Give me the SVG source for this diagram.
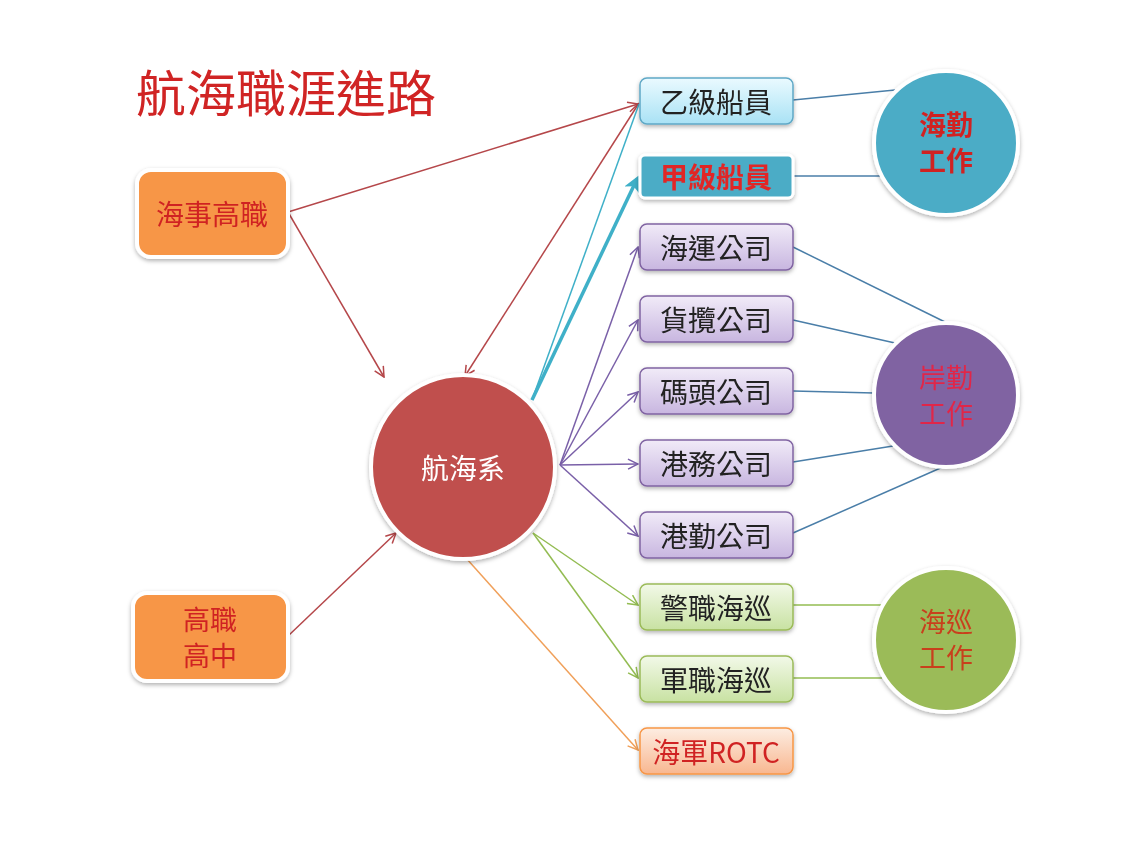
<svg xmlns="http://www.w3.org/2000/svg" width="1138" height="857" viewBox="0 0 1138 857">
<defs>
<style>
.t{font-family:"Noto Sans CJK TC","Noto Sans CJK SC",sans-serif;}
.bx{font-size:28px;text-anchor:middle;dominant-baseline:central;}
.cl{font-size:27px;text-anchor:middle;}
.red{stroke:#B5474A;stroke-width:1.5;fill:none;}
.pur{stroke:#7A60A8;stroke-width:1.5;fill:none;}
.grn{stroke:#93BC52;stroke-width:1.5;fill:none;}
.org{stroke:#F0A05A;stroke-width:1.5;fill:none;}
.tea{stroke:#3FB0C8;fill:none;}
.blu{stroke:#4A7EA8;stroke-width:1.5;fill:none;}
</style>
<linearGradient id="gB" x1="0" y1="0" x2="0" y2="1"><stop offset="0" stop-color="#EAFAFF"/><stop offset="1" stop-color="#A9E2F5"/></linearGradient>
<linearGradient id="gP" x1="0" y1="0" x2="0" y2="1"><stop offset="0" stop-color="#F1EBF8"/><stop offset="1" stop-color="#C8B6E0"/></linearGradient>
<linearGradient id="gG" x1="0" y1="0" x2="0" y2="1"><stop offset="0" stop-color="#F2F9E8"/><stop offset="1" stop-color="#C8E2A2"/></linearGradient>
<linearGradient id="gO" x1="0" y1="0" x2="0" y2="1"><stop offset="0" stop-color="#FDEDE2"/><stop offset="1" stop-color="#F8B790"/></linearGradient>
<filter id="sh" x="-20%" y="-20%" width="140%" height="150%"><feDropShadow dx="0" dy="2" stdDeviation="2" flood-color="#000" flood-opacity="0.3"/></filter>
<marker id="aR" viewBox="0 0 12 12" refX="11" refY="6" markerWidth="12" markerHeight="12" markerUnits="userSpaceOnUse" orient="auto"><path d="M1,1 L11,6 L1,11" fill="none" stroke="#B5474A" stroke-width="1.5"/></marker>
<marker id="aP" viewBox="0 0 12 12" refX="11" refY="6" markerWidth="12" markerHeight="12" markerUnits="userSpaceOnUse" orient="auto"><path d="M1,1 L11,6 L1,11" fill="none" stroke="#7A60A8" stroke-width="1.5"/></marker>
<marker id="aG" viewBox="0 0 12 12" refX="11" refY="6" markerWidth="12" markerHeight="12" markerUnits="userSpaceOnUse" orient="auto"><path d="M1,1 L11,6 L1,11" fill="none" stroke="#93BC52" stroke-width="1.5"/></marker>
<marker id="aO" viewBox="0 0 12 12" refX="11" refY="6" markerWidth="12" markerHeight="12" markerUnits="userSpaceOnUse" orient="auto"><path d="M1,1 L11,6 L1,11" fill="none" stroke="#F0A05A" stroke-width="1.5"/></marker>
<marker id="aT" viewBox="0 0 12 12" refX="9" refY="6" markerWidth="16" markerHeight="16" markerUnits="userSpaceOnUse" orient="auto"><path d="M0,0 L12,6 L0,12 L3,6 Z" fill="#3FB0C8"/></marker>
</defs>
<rect width="1138" height="857" fill="#FFFFFF"/>
<text class="t" x="136" y="112" font-size="50" fill="#D02424">航海職涯進路</text>

<g id="connectors">
<line class="red" x1="288" y1="212" x2="638" y2="104" marker-end="url(#aR)"/>
<line class="red" x1="288" y1="212" x2="384" y2="377" marker-end="url(#aR)"/>
<line class="red" x1="639" y1="103" x2="465" y2="376" marker-end="url(#aR)"/>
<line class="red" x1="288" y1="636" x2="396" y2="533" marker-end="url(#aR)"/>
<line class="tea" stroke-width="1.5" x1="532" y1="400" x2="639" y2="104"/>
<line class="tea" stroke-width="3.5" x1="532" y1="400" x2="637" y2="179" marker-end="url(#aT)"/>
<line class="pur" x1="560" y1="465" x2="638" y2="247" marker-end="url(#aP)"/>
<line class="pur" x1="560" y1="465" x2="638" y2="320" marker-end="url(#aP)"/>
<line class="pur" x1="560" y1="465" x2="638" y2="392" marker-end="url(#aP)"/>
<line class="pur" x1="560" y1="465" x2="638" y2="464" marker-end="url(#aP)"/>
<line class="pur" x1="560" y1="465" x2="638" y2="536" marker-end="url(#aP)"/>
<line class="grn" x1="533" y1="533" x2="638" y2="605" marker-end="url(#aG)"/>
<line class="grn" x1="533" y1="533" x2="638" y2="678" marker-end="url(#aG)"/>
<line class="org" x1="466" y1="558" x2="638" y2="750" marker-end="url(#aO)"/>
<line class="blu" x1="793" y1="100" x2="895" y2="90"/>
<line class="blu" x1="793" y1="176" x2="882" y2="176"/>
<line class="blu" x1="793" y1="247" x2="945" y2="322"/>
<line class="blu" x1="793" y1="320" x2="895" y2="343"/>
<line class="blu" x1="793" y1="391" x2="874" y2="393"/>
<line class="blu" x1="793" y1="462" x2="893" y2="446"/>
<line class="blu" x1="793" y1="533" x2="945" y2="466"/>
<line class="grn" x1="793" y1="605" x2="882" y2="605"/>
<line class="grn" x1="793" y1="678" x2="882" y2="678"/>
</g>

<g id="n-haishi" filter="url(#sh)">
<rect x="137" y="170" width="151" height="87" rx="14" fill="#F79646" stroke="#FFFFFF" stroke-width="4"/>
<text class="t bx" x="212" y="213" fill="#D02424">海事高職</text>
</g>
<g id="n-gaozhi" filter="url(#sh)">
<rect x="133" y="593" width="155" height="88" rx="14" fill="#F79646" stroke="#FFFFFF" stroke-width="4"/>
<text class="t cl" x="210" y="630" fill="#D02424">高職</text>
<text class="t cl" x="210" y="666" fill="#D02424">高中</text>
</g>
<g id="n-hanghai" filter="url(#sh)">
<circle cx="463" cy="467" r="92" fill="#C0504D" stroke="#FFFFFF" stroke-width="4"/>
<text class="t bx" x="463" y="467" fill="#FFFFFF">航海系</text>
</g>

<g id="n-yi" filter="url(#sh)">
<rect x="640" y="78" width="153" height="46" rx="7" fill="url(#gB)" stroke="#5FA8C6" stroke-width="1.5"/>
<text class="t bx" x="716" y="101" fill="#222">乙級船員</text>
</g>
<g id="n-jia" filter="url(#sh)">
<rect x="640" y="155" width="153" height="43" rx="5" fill="#4BACC6" stroke="#FFFFFF" stroke-width="3"/>
<text class="t bx" x="716" y="176" fill="#E02828" font-weight="bold">甲級船員</text>
</g>
<g id="n-haiyun" filter="url(#sh)">
<rect x="640" y="224" width="153" height="46" rx="7" fill="url(#gP)" stroke="#8064A2" stroke-width="1.5"/>
<text class="t bx" x="716" y="247" fill="#222">海運公司</text>
</g>
<g id="n-huolan" filter="url(#sh)">
<rect x="640" y="296" width="153" height="46" rx="7" fill="url(#gP)" stroke="#8064A2" stroke-width="1.5"/>
<text class="t bx" x="716" y="319" fill="#222">貨攬公司</text>
</g>
<g id="n-matou" filter="url(#sh)">
<rect x="640" y="368" width="153" height="46" rx="7" fill="url(#gP)" stroke="#8064A2" stroke-width="1.5"/>
<text class="t bx" x="716" y="391" fill="#222">碼頭公司</text>
</g>
<g id="n-gangwu" filter="url(#sh)">
<rect x="640" y="440" width="153" height="46" rx="7" fill="url(#gP)" stroke="#8064A2" stroke-width="1.5"/>
<text class="t bx" x="716" y="463" fill="#222">港務公司</text>
</g>
<g id="n-gangqin" filter="url(#sh)">
<rect x="640" y="512" width="153" height="46" rx="7" fill="url(#gP)" stroke="#8064A2" stroke-width="1.5"/>
<text class="t bx" x="716" y="535" fill="#222">港勤公司</text>
</g>
<g id="n-jingzhi" filter="url(#sh)">
<rect x="640" y="584" width="153" height="46" rx="7" fill="url(#gG)" stroke="#9BBB59" stroke-width="1.5"/>
<text class="t bx" x="716" y="607" fill="#222">警職海巡</text>
</g>
<g id="n-junzhi" filter="url(#sh)">
<rect x="640" y="656" width="153" height="46" rx="7" fill="url(#gG)" stroke="#9BBB59" stroke-width="1.5"/>
<text class="t bx" x="716" y="679" fill="#222">軍職海巡</text>
</g>
<g id="n-rotc" filter="url(#sh)">
<rect x="640" y="728" width="153" height="46" rx="7" fill="url(#gO)" stroke="#F79646" stroke-width="1.5"/>
<text class="t bx" x="716" y="751" fill="#D02424">海軍ROTC</text>
</g>

<g id="n-haiqin" filter="url(#sh)">
<circle cx="946" cy="143" r="72" fill="#4BACC6" stroke="#FFFFFF" stroke-width="4"/>
<text class="t cl" x="946" y="135" fill="#D02424" font-weight="bold">海勤</text>
<text class="t cl" x="946" y="171" fill="#D02424" font-weight="bold">工作</text>
</g>
<g id="n-anqin" filter="url(#sh)">
<circle cx="946" cy="395" r="72" fill="#8064A2" stroke="#FFFFFF" stroke-width="4"/>
<text class="t cl" x="946" y="388" fill="#E0284A">岸勤</text>
<text class="t cl" x="946" y="424" fill="#E0284A">工作</text>
</g>
<g id="n-haixun" filter="url(#sh)">
<circle cx="946" cy="640" r="72" fill="#9BBB59" stroke="#FFFFFF" stroke-width="4"/>
<text class="t cl" x="946" y="632" fill="#C8401E">海巡</text>
<text class="t cl" x="946" y="668" fill="#C8401E">工作</text>
</g>
</svg>
